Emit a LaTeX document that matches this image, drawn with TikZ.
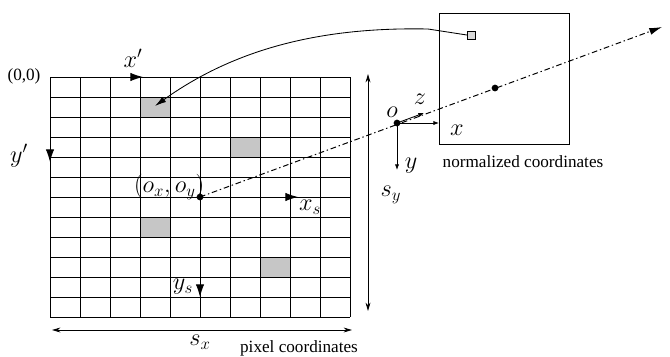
\documentclass[tikz,border=0pt]{standalone}
\usepackage{fontspec}
\setmainfont{Liberation Serif}
\usetikzlibrary{arrows.meta}

\tikzset{
  axis/.style={-{Latex[length=9pt,width=6pt]}, line width=0.7pt},
  small axis/.style={-{Latex[length=4pt,width=3pt]}, line width=0.6pt},
  span/.style={{Stealth[length=6pt,width=3.5pt]}-{Stealth[length=6pt,width=3.5pt]}, line width=0.6pt},
  pixel/.style={fill=gray!45},
  ray/.style={line width=0.7pt, dash pattern=on 4pt off 2pt on 1pt off 2pt},
  lab/.style={font=\LARGE, inner sep=1pt},
  txt/.style={font=\fontsize{12.2}{15}\selectfont, inner sep=0pt}
}

\begin{document}
\begin{tikzpicture}[x=0.025cm, y=-0.025cm]
    \useasboundingbox (0,0) rectangle (670,356);

    % Pixel grid
    \fill[pixel] (140,97) rectangle (170,117);
    \fill[pixel] (230,137) rectangle (260,157);
    \fill[pixel] (140,217) rectangle (170,237);
    \fill[pixel] (260,257) rectangle (290,277);
    \foreach \i in {0,...,10}
        \draw[line width=0.7pt] (50+30*\i,77) -- (50+30*\i,317);
    \foreach \j in {0,...,12}
        \draw[line width=0.7pt] (50,77+20*\j) -- (350,77+20*\j);

    % Pixel axes
    \coordinate (origin) at (50,77);
    \coordinate (xhead) at (143,77);
    \coordinate (yhead) at (50,162);
    \draw[axis] (origin) -- (xhead);
    \draw[axis] (origin) -- (yhead);
    \node[txt] (orig) at (24,76) {(0,0)};
    \node[lab] (xp) at (133,58) {$x'$};
    \node[lab] (yp) at (19,156) {$y'$};

    % Principal point
    \coordinate (P) at (200,197);
    \coordinate (xshead) at (298,197);
    \coordinate (yshead) at (200,297);
    \draw[axis] (P) -- (xshead);
    \draw[axis] (P) -- (yshead);
    \node[lab, anchor=east] (pp) at (206,187) {$(o_x,o_y)$};
    \node[lab] (xs) at (310,207) {$x_s$};
    \node[lab] (ys) at (183,287) {$y_s$};

    % Image size
    \coordinate (sytop) at (368,74);
    \coordinate (sybot) at (368,311);
    \coordinate (sxleft) at (52,330);
    \coordinate (sxright) at (352,330);
    \draw[span] (sytop) -- (sybot);
    \draw[span] (sxleft) -- (sxright);
    \node[lab] (sy) at (391,195) {$s_y$};
    \node[lab] (sx) at (200,342) {$s_x$};
    \node[txt] (pixlab) at (299,348) {pixel coordinates};

    % Normalized frame
    \draw[line width=0.7pt] (439,13) rectangle (569,144);
    \node[txt] (normlab) at (523,162) {normalized coordinates};
    \coordinate (O) at (397,123);
    \coordinate (D) at (495,88);
    \coordinate (E) at (662,27);
    \draw[ray, -{Latex[length=9pt,width=5pt]}] (P) -- (E);
    \coordinate (xhd) at (439,123);
    \coordinate (yhd) at (397,170);
    \coordinate (zhd) at (424,113);
    \draw[small axis] (O) -- (xhd);
    \draw[small axis] (O) -- (yhd);
    \draw[small axis] (O) -- (zhd);
    \node[lab] (olab) at (392,112) {$o$};
    \node[lab] (zlab) at (420,99) {$z$};
    \node[lab] (xlab) at (457,130) {$x$};
    \node[lab] (ylab) at (411,166) {$y$};
    \fill (P) circle (2.4pt);
    \fill (O) circle (2.4pt);
    \fill (D) circle (2.4pt);

    % Pixel seen in the normalized frame
    \node[draw, fill=gray!30, minimum size=5.5pt, inner sep=0pt] (sq) at (471,35) {};
    \coordinate (bend) at (428,29);
    \coordinate (T) at (155,106);
    \draw[line width=0.6pt, -{Latex[length=8pt,width=4.5pt]}] (sq.west) -- (bend)
        .. controls (330,27) and (240,45) .. (T);
\end{tikzpicture}
\end{document}
